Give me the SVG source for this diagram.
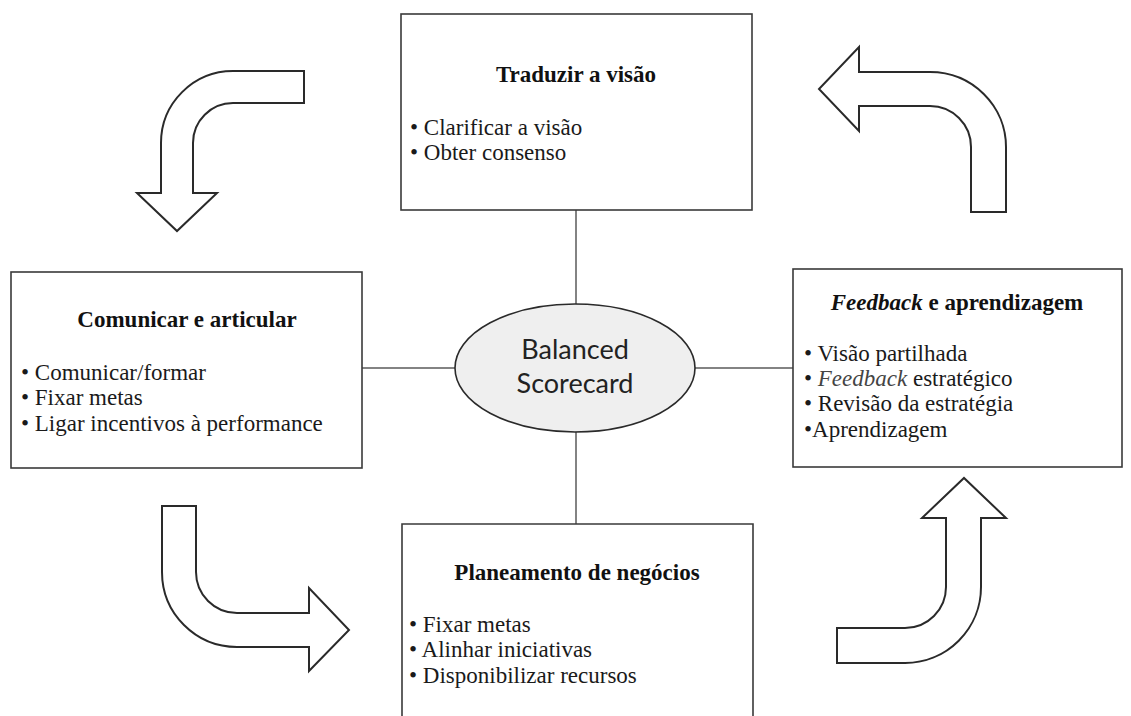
<svg xmlns="http://www.w3.org/2000/svg" width="1131" height="716" viewBox="0 0 1131 716">
  <style>
    .box { fill: #ffffff; stroke: #3a3a3a; stroke-width: 1.6; }
    .link { fill: none; stroke: #5a5a5a; stroke-width: 1.5; }
    .flow { fill: #ffffff; stroke: #2a2a2a; stroke-width: 2; stroke-linejoin: miter; }
    .hub { fill: #efefef; stroke: #2a2a2a; stroke-width: 1.6; }
    .title { font-family: "Liberation Serif", "Times New Roman", serif; font-weight: bold; font-size: 23px; fill: #111; text-anchor: middle; }
    .item { font-family: "Liberation Serif", "Times New Roman", serif; font-size: 23px; fill: #1a1a1a; }
    .hubtext { font-family: Lato, "Open Sans", sans-serif; font-size: 27px; fill: #222; text-anchor: middle; }
  </style>
  <rect width="1131" height="716" fill="#ffffff"/>

  <!-- connectors between the hub and the four boxes -->
  <g id="connectors">
    <line class="link" x1="576" y1="210" x2="576" y2="304"/>
    <line class="link" x1="576" y1="432" x2="576" y2="524"/>
    <line class="link" x1="362" y1="368" x2="455" y2="368"/>
    <line class="link" x1="695" y1="368" x2="793" y2="368"/>
  </g>

  <!-- curved block arrows showing the cycle -->
  <g id="cycle-arrows">
    <path class="flow" d="M304,71 L233,71 A72,72 0 0 0 161,143 L161,193 L137,193 L177,231 L217,193 L193,193 L193,143 A40,40 0 0 1 233,103 L304,103 Z"/>
    <path class="flow" d="M1006,212 L1006,147 A76,75 0 0 0 930,72 L859,72 L859,47 L819,89 L859,131 L859,106 L930,106 A41,41 0 0 1 971,147 L971,212 Z"/>
    <path class="flow" d="M162,506 L162,572 A75,75 0 0 0 237,647 L309,647 L309,671 L349,630 L309,588 L309,613 L237,613 A41,41 0 0 1 196,572 L196,506 Z"/>
    <path class="flow" d="M837,628 L905,628 A41,41 0 0 0 946,587 L946,518 L922,518 L964,478 L1006,518 L981,518 L981,587 A76,76 0 0 1 905,663 L837,663 Z"/>
  </g>

  <g id="hub">
    <ellipse class="hub" cx="575" cy="368" rx="120" ry="64"/>
    <text class="hubtext" x="575" y="359">Balanced</text>
    <text class="hubtext" x="575" y="393">Scorecard</text>
  </g>

  <g id="node-traduzir">
    <rect class="box" x="401" y="14" width="351" height="196"/>
    <text class="title" x="576" y="82">Traduzir a visão</text>
    <text class="item" x="410" y="135">• Clarificar a visão</text>
    <text class="item" x="410" y="160">• Obter consenso</text>
  </g>

  <g id="node-comunicar">
    <rect class="box" x="11" y="272" width="351" height="196"/>
    <text class="title" x="187" y="327">Comunicar e articular</text>
    <text class="item" x="21" y="380">• Comunicar/formar</text>
    <text class="item" x="21" y="405">• Fixar metas</text>
    <text class="item" x="21" y="431">• Ligar incentivos à performance</text>
  </g>

  <g id="node-feedback">
    <rect class="box" x="793" y="269" width="329" height="198"/>
    <text class="title" x="957" y="310"><tspan font-style="italic">Feedback</tspan> e aprendizagem</text>
    <text class="item" x="804" y="361">• Visão partilhada</text>
    <text class="item" x="804" y="386">• <tspan font-style="italic" fill="#444">Feedback</tspan> estratégico</text>
    <text class="item" x="804" y="411">• Revisão da estratégia</text>
    <text class="item" x="804" y="437">•Aprendizagem</text>
  </g>

  <g id="node-planeamento">
    <path class="box" d="M402,720 L402,524 L753,524 L753,720"/>
    <text class="title" x="577" y="580">Planeamento de negócios</text>
    <text class="item" x="409" y="632">• Fixar metas</text>
    <text class="item" x="409" y="657">• Alinhar iniciativas</text>
    <text class="item" x="409" y="683">• Disponibilizar recursos</text>
  </g>
</svg>
